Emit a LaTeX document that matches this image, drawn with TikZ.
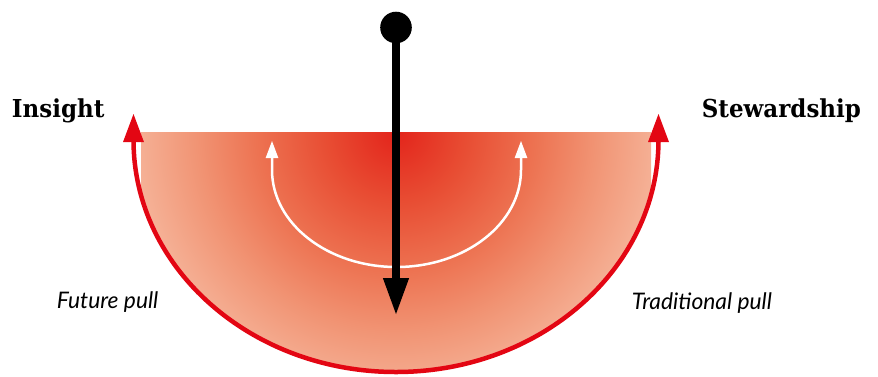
\documentclass[tikz,border=0pt]{standalone}
\usepackage{fontspec}
\usetikzlibrary{arrows.meta}
\newfontfamily\titlefont{DejaVu Serif}[FakeStretch=0.93]
\newfontfamily\pullfont{Lato}
\definecolor{bowlred}{HTML}{E30613}
\definecolor{gA}{HTML}{E3241B}
\definecolor{gB}{HTML}{E84D33}
\definecolor{gC}{HTML}{ED7352}
\definecolor{gD}{HTML}{F19474}
\definecolor{gE}{HTML}{F5B196}
% 25bp of the shading corresponds to the 300pt radius of the shaded circle
\pgfdeclareradialshading{bowlshade}{\pgfpoint{0bp}{0bp}}{color(0bp)=(gA); color(5.83bp)=(gB); color(11.67bp)=(gC); color(16.67bp)=(gD); color(21.67bp)=(gE); color(50bp)=(gE)}
\tikzset{
  titletext/.style={inner sep=0pt, anchor=base west, font=\titlefont\bfseries\fontsize{24.7}{30}\selectfont},
  pulltext/.style={inner sep=0pt, anchor=base west, font=\pullfont\itshape\fontsize{22.8}{27}\selectfont},
  redarc/.style={draw=bowlred, line width=4.5pt,
    {Triangle[width=21pt,length=28pt,line width=0pt]}-{Triangle[width=21pt,length=28pt,line width=0pt]}},
  whitearc/.style={draw=white, line width=2.5pt,
    {Triangle[width=12.7pt,length=17pt,line width=0pt]}-{Triangle[width=12.7pt,length=17pt,line width=0pt]}},
  stick/.style={draw=black, line width=8pt, -{Triangle[width=26.3pt,length=36pt,line width=0pt]}},
}
\begin{document}
\begin{tikzpicture}[x=1pt,y=1pt]
\useasboundingbox (0,0) rectangle (878,-376);
% gradient bowl
\begin{scope}
  \clip (141,-132) rectangle (651,-380);
  \clip (134,-132) -- (134,-140) arc[start angle=180,end angle=360,x radius=262,y radius=232] -- (658,-132) -- cycle;
  \shade[shading=bowlshade] (396,-132) circle[radius=300];
\end{scope}
% red outline with arrows
\coordinate (lt) at (133.5,-114);
\coordinate (rt) at (658.5,-114);
\draw[redarc] (lt) -- (133.5,-140) arc[start angle=180,end angle=360,x radius=262.5,y radius=232] -- (rt);
% white arc
\coordinate (wl) at (272,-141);
\coordinate (wr) at (521,-141);
\draw[whitearc] (wl) -- (272,-170) arc[start angle=180,end angle=360,x radius=124.5,y radius=97] -- (wr);
% pendulum
\node[circle, fill=black, inner sep=0pt, minimum size=31.6pt] (pivot) at (396,-27.5) {};
\coordinate (ptip) at (396,-314);
\draw[stick] (pivot.center) -- (ptip);
% labels
\node[titletext] (insight) at (11.7,-117.3) {Insight};
\node[titletext] (stew) at (701.7,-117.3) {Stewardship};
\node[pulltext] (future) at (56.7,-308.3) {Future pull};
\node[pulltext] (trad) at (631.7,-309) {Traditional pull};
\end{tikzpicture}
\end{document}
